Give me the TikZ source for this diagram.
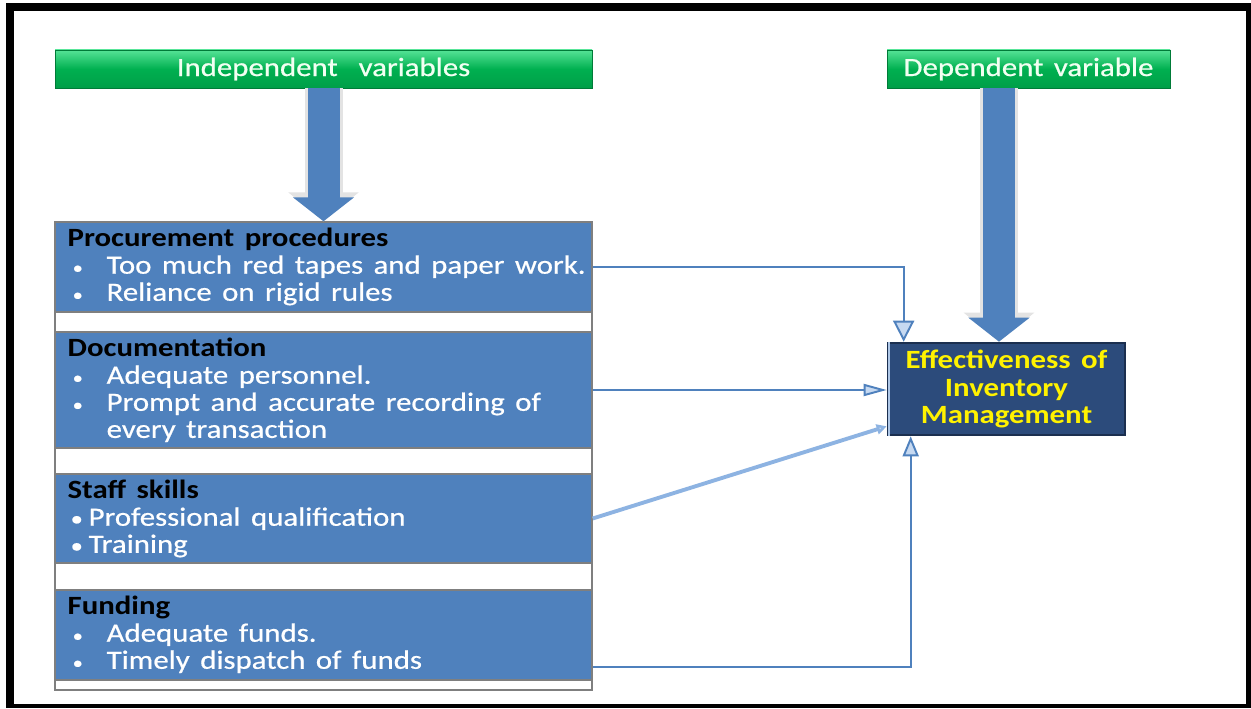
\documentclass[tikz,border=0pt]{standalone}
\usepackage{fontspec}
\setmainfont[FakeStretch=1.17,WordSpace=1.5]{Carlito}
\newfontfamily\glowfont[FakeStretch=1.17,WordSpace=1.5,FakeBold=0.6]{Carlito}
\usetikzlibrary{arrows.meta,positioning,calc}
\definecolor{panelblue}{HTML}{4F81BD}
\definecolor{navyfill}{HTML}{2C4B7B}
\definecolor{navyline}{HTML}{1B2F4F}
\definecolor{grdark}{HTML}{00B050}
\definecolor{grlight}{HTML}{55E396}
\definecolor{tipfill}{HTML}{C6D9F1}
\definecolor{diagblue}{HTML}{8DB3E2}
\definecolor{framegray}{HTML}{7F7F7F}
\newcommand{\itm}{\makebox[0.78cm][l]{\hspace{0.1cm}{\fontsize{10}{10}\selectfont\textbullet}}}
\newcommand{\itmgap}{\makebox[0.78cm]{}}
\newcommand{\sitm}{\makebox[0.42cm][l]{\hspace{0.06cm}{\fontsize{12}{12}\selectfont\textbullet}}}
\newcommand{\hd}[1]{\textcolor{black}{\normalfont\bfseries #1}}

\begin{document}
\begin{tikzpicture}[
  font=\fontsize{15}{15.4}\selectfont,
  varbox/.style={draw=grdark!70!black,top color=grlight,bottom color=grdark!90!black,middle color=grdark,
    text=white!95!green,font=\fontsize{15}{15.4}\selectfont\glowfont,minimum height=0.76cm,inner sep=0pt},
  panel/.style={draw=framegray,fill=panelblue,minimum width=10.74cm,inner sep=0pt,line width=0.8pt},
  panelbody/.style={anchor=north west,align=left,inner sep=0pt,text=white,font=\fontsize{15}{15.4}\selectfont\glowfont},
  effbox/.style={draw=navyline,fill=navyfill,line width=1.5pt,minimum width=4.74cm,minimum height=1.84cm,
    text=yellow,font=\fontsize{15}{15.4}\selectfont\bfseries,align=center,inner sep=0pt},
  bigglow/.style={line width=0.76cm,gray!22,-{Triangle[width=1.38cm,length=0.58cm]}},
  bigarrow/.style={line width=0.64cm,panelblue,-{Triangle[width=1.2cm,length=0.48cm]}},
  link/.style={panelblue,line width=1.1pt},
]
\useasboundingbox (0,0) rectangle (25.02,14.16);
% outer frame
\fill[black] (0.12,0) rectangle (25.02,14.1);
\fill[white] (0.28,0.08) rectangle (24.92,13.94);

% headings
\node[varbox,minimum width=10.74cm] (indep) at (6.47,12.78) {Independent\ \ variables};
\node[varbox,minimum width=5.66cm] (dep) at (20.57,12.78) {Dependent variable};

% ---- left column ----
\draw[framegray,fill=white,line width=0.8pt] (1.1,0.36) rectangle (11.84,9.72);
\node[panel,minimum height=1.8cm] (proc) at (6.47,8.82) {};
\node[panel,minimum height=2.32cm] (doc) at (6.47,6.36) {};
\node[panel,minimum height=1.78cm] (staff) at (6.47,3.79) {};
\node[panel,minimum height=1.8cm] (fund) at (6.47,1.46) {};

\node[panelbody] (proctxt) at ([xshift=0.26cm,yshift=-0.13cm]proc.north west)
  {\hd{Procurement procedures}\\\itm Too much red tapes and paper work.\\\itm Reliance on rigid rules};
\node[panelbody] (doctxt) at ([xshift=0.26cm,yshift=-0.13cm]doc.north west)
  {\hd{Documentation}\\\itm Adequate personnel.\\\itm Prompt and accurate recording of\\\itmgap every transaction};
\node[panelbody] (stafftxt) at ([xshift=0.26cm,yshift=-0.13cm]staff.north west)
  {\hd{Staff skills}\\\sitm Professional qualification\\\sitm Training};
\node[panelbody] (fundtxt) at ([xshift=0.26cm,yshift=-0.13cm]fund.north west)
  {\hd{Funding}\\\itm Adequate\ funds.\\\itm Timely dispatch of funds};

% ---- right side ----
\node[effbox] (eff) at (20.13,6.38) {Effectiveness of\\Inventory\\Management};
\draw[tipfill!80!panelblue,line width=1.2pt] ([xshift=0.05cm]eff.north west) -- ([xshift=0.05cm]eff.south west);

% big arrows
\coordinate (effN) at ([xshift=-0.15cm]eff.north);
\draw[bigglow] (indep.south) -- (proc.north);
\draw[bigarrow] (indep.south) -- (proc.north);
\draw[bigglow] (dep.south -| effN) -- (effN);
\draw[bigarrow] (dep.south -| effN) -- (effN);

% links
\coordinate (effT) at ([xshift=0.34cm]eff.north west);
\coordinate (effB) at ([xshift=0.48cm]eff.south west);
\coordinate (fundout) at ([yshift=-0.64cm]fund.east);
\draw[link,-{Triangle[fill=tipfill,width=0.42cm,length=0.42cm]}] (proc.east) -| (effT);
\draw[link,-{Triangle[fill=tipfill,width=0.24cm,length=0.46cm]}] (doc.east) -- (doc.east -| eff.west);
\draw[diagblue,line width=2.2pt,-{Triangle[fill=tipfill,width=0.2cm,length=0.2cm]}] (staff.east) -- ([yshift=0.2cm]eff.south west);
\draw[link,-{Triangle[fill=tipfill,width=0.32cm,length=0.4cm]}] (fundout) -| (effB);
\end{tikzpicture}
\end{document}
